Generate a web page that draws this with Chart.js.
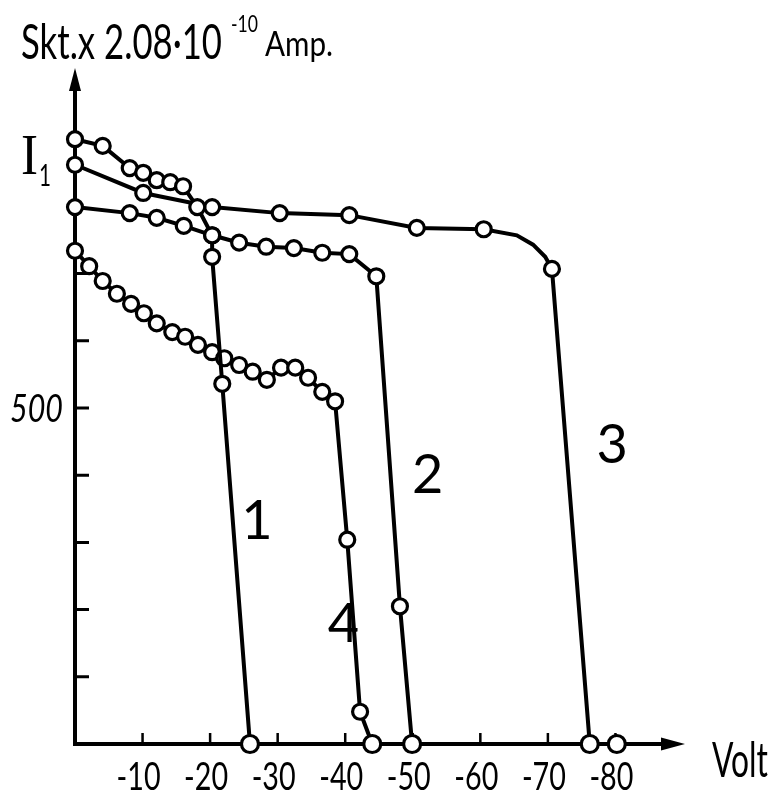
<!DOCTYPE html>
<html>
<head>
<meta charset="utf-8">
<script src="https://cdn.jsdelivr.net/npm/chart.js@4.4.1/dist/chart.umd.min.js"></script>
<style>
  html, body { margin: 0; padding: 0; background: #fff; }
  #wrap { width: 770px; height: 803px; position: relative; }
</style>
</head>
<body>
<div id="wrap"><canvas id="chart"></canvas></div>
<script>
// axis ticks (volt, scale divisions)
const xTicks = [-10, -20, -30, -40, -50, -60, -70, -80];
const yTicks = [100, 200, 300, 400, 500, 600, 700];
const yLabelled = [500];

// curve 1
const curve1V = [0, -4.1, -8.1, -10.1, -12.1, -14.1, -16.0, -18.1, -20.3, -20.3, -21.8, -25.9];
const curve1I = [900, 890, 857, 850, 839, 836, 830, 799, 757, 725, 536, 0];

// curve 2
const curve2V = [0, -8.1, -12.1, -16.1, -20.3, -24.3, -28.3, -32.4, -36.6, -40.6, -44.6, -48.1, -49.9];
const curve2I = [799, 790, 783, 771, 757, 746, 740, 738, 731, 729, 696, 205, 0];

// curve 3 (the three unmarked values follow the drawn bend before the drop)
const curve3V = [0, -10.1, -20.3, -30.3, -40.6, -50.6, -60.5, -65.4, -67.8, -69.6, -70.6, -76.2, -80.2];
const curve3I = [862, 820, 799, 790, 787, 768, 766, 757, 743, 725, 707, 0, 0];
const curve3Marked = [1, 1, 1, 1, 1, 1, 1, 0, 0, 0, 1, 1, 1];

// curve 4
const curve4V = [0, -2.1, -4.1, -6.2, -8.3, -10.2, -12.1, -14.4, -16.3, -18.2, -20.3, -22.1, -24.3, -26.3,
                 -28.4, -30.5, -32.6, -34.5, -36.6, -38.5, -40.3, -42.2, -44.0];
const curve4I = [734, 711, 689, 670, 655, 641, 626, 613, 606, 594, 583, 574, 564, 554,
                 542, 560, 560, 545, 524, 510, 304, 48, 0];

const curveNames = ['1', '2', '3', '4'];

function toPoints(vs, is) {
    return vs.map((v, i) => ({ x: v, y: is[i] }));
}

function makeSet(label, vs, is, marked) {
    return {
        label: label,
        data: toPoints(vs, is),
        showLine: true,
        borderColor: '#000',
        borderWidth: 4,
        pointBackgroundColor: '#fff',
        pointBorderColor: '#000',
        pointBorderWidth: 3.2,
        pointRadius: marked ? marked.map((m, i) => m ? (is[i] === 0 ? 8.5 : 7.5) : 0)
                            : is.map(v => v === 0 ? 8.5 : 7.5),
        tension: 0,
        clip: false
    };
}

// text squeezed to the width of the hand lettering
function fitText(ctx, text, x, y, font, width, align) {
    ctx.save();
    ctx.font = font;
    const w = ctx.measureText(text).width;
    const sx = width ? width / w : 1;
    let left = x;
    if (align === 'right') left = x - w * sx;
    if (align === 'center') left = x - w * sx / 2;
    ctx.translate(left, y);
    ctx.scale(sx, 1);
    ctx.textAlign = 'left';
    ctx.textBaseline = 'alphabetic';
    ctx.fillText(text, 0, 0);
    ctx.restore();
}

const handDrawn = {
    id: 'handDrawn',
    beforeDatasetsDraw(chart) {
        const ctx = chart.ctx;
        const x = chart.scales.x, y = chart.scales.y;
        const x0 = x.getPixelForValue(0), y0 = y.getPixelForValue(0);
        const xEnd = x.getPixelForValue(-90), yEnd = y.getPixelForValue(1000);
        ctx.save();
        ctx.strokeStyle = '#000';
        ctx.fillStyle = '#000';
        ctx.lineWidth = 4;
        ctx.beginPath();
        ctx.moveTo(x0, y0 + 2);
        ctx.lineTo(x0, yEnd + 14);
        ctx.moveTo(x0 - 2, y0);
        ctx.lineTo(xEnd - 14, y0);
        ctx.stroke();

        // arrow heads
        ctx.beginPath();
        ctx.moveTo(x0, yEnd - 4);
        ctx.lineTo(x0 - 6, yEnd + 19);
        ctx.lineTo(x0 + 6, yEnd + 19);
        ctx.closePath();
        ctx.fill();
        ctx.beginPath();
        ctx.moveTo(xEnd + 2, y0);
        ctx.lineTo(xEnd - 22, y0 - 6.5);
        ctx.lineTo(xEnd - 22, y0 + 6.5);
        ctx.closePath();
        ctx.fill();

        // tick marks point into the plot
        ctx.lineWidth = 3;
        ctx.beginPath();
        yTicks.forEach(v => {
            const py = y.getPixelForValue(v);
            ctx.moveTo(x0, py);
            ctx.lineTo(x0 + 14, py);
        });
        ctx.stroke();
        ctx.lineWidth = 2.5;
        ctx.beginPath();
        xTicks.forEach(v => {
            const px = x.getPixelForValue(v);
            ctx.moveTo(px, y0);
            ctx.lineTo(px, y0 - 11);
        });
        ctx.stroke();
        ctx.restore();
    },
    afterDatasetsDraw(chart) {
        const ctx = chart.ctx;
        const x = chart.scales.x, y = chart.scales.y;
        const x0 = x.getPixelForValue(0), y0 = y.getPixelForValue(0);
        ctx.save();
        ctx.fillStyle = '#000';

        // unit line on top
        fitText(ctx, 'Skt.x 2.08\u00b710', 21, 59, '48px Lato', 201);
        fitText(ctx, '-10', 231, 32, '24px Lato', 27);
        fitText(ctx, 'Amp.', 265, 56, '34px Lato', 68);

        // I1
        fitText(ctx, 'I', 21, 174, '56px "Liberation Serif"', 17);
        fitText(ctx, '1', 39, 186, '30px Lato', 12);

        // y labels
        yLabelled.forEach(v => {
            fitText(ctx, String(v), x0 - 12, y.getPixelForValue(v) + 14, 'italic 38px Lato', 53, 'right');
        });

        // x labels
        xTicks.forEach(v => {
            fitText(ctx, String(v), x.getPixelForValue(v) - 4, y0 + 46, '38px Lato', 44, 'center');
        });
        fitText(ctx, 'Volt', 712, 777, '48px Lato', 56);

        // curve numbers
        const numPos = [[-24.6, 305], [-49.9, 373], [-77.2, 418], [-37.4, 152]];
        curveNames.forEach((n, i) => {
            fitText(ctx, n, x.getPixelForValue(numPos[i][0]), y.getPixelForValue(numPos[i][1]),
                '54px Lato', null);
        });
        ctx.restore();
    }
};

document.addEventListener('DOMContentLoaded', function () {
    const ctx = document.getElementById('chart').getContext('2d');
    new Chart(ctx, {
        type: 'scatter',
        data: {
            datasets: [
                makeSet('1', curve1V, curve1I),
                makeSet('2', curve2V, curve2I),
                makeSet('3', curve3V, curve3I, curve3Marked),
                makeSet('4', curve4V, curve4I)
            ]
        },
        options: {
            responsive: true,
            maintainAspectRatio: false,
            animation: false,
            layout: { padding: { left: 75, top: 72, right: 87, bottom: 59 } },
            plugins: {
                legend: { display: false },
                tooltip: { enabled: false }
            },
            scales: {
                x: { type: 'linear', min: -90, max: 0, reverse: true, display: false },
                y: { type: 'linear', min: 0, max: 1000, display: false }
            }
        },
        plugins: [handDrawn]
    });
});
</script>
</body>
</html>
